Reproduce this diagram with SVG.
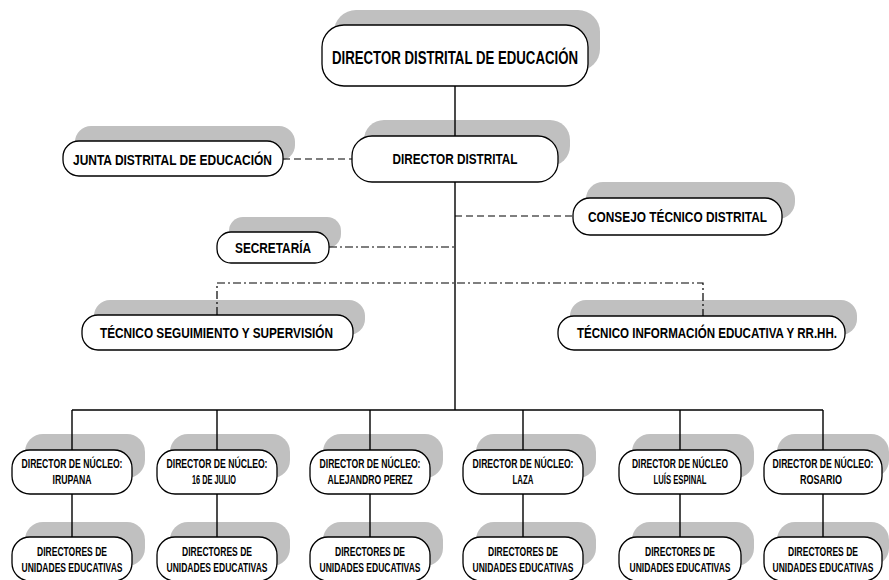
<svg xmlns="http://www.w3.org/2000/svg" width="889" height="580" viewBox="0 0 889 580">
<style>
.sh{fill:#c0c0c0;stroke:none}
.bx{fill:#fff;stroke:#000;stroke-width:1.3}
.t{font-family:"Liberation Sans Narrow","Liberation Sans",Arial,sans-serif;font-weight:bold;fill:#000;text-anchor:middle}
.n{font-size:13px}
.s{stroke:#000;stroke-width:1.4;fill:none}
.d{stroke:#000;stroke-width:1.2;fill:none;stroke-dasharray:7 4}
.dd{stroke:#000;stroke-width:1.2;fill:none;stroke-dasharray:8 3 2 3}
</style>
<rect width="889" height="580" fill="#fff"/>
<g id="n-top">
<rect class="sh" x="334" y="10" width="266" height="61" rx="22"/>
<rect class="bx" x="322" y="25" width="266" height="61" rx="22"/>
<text class="t" x="455" y="63.5" font-size="18.5" textLength="246" lengthAdjust="spacingAndGlyphs">DIRECTOR DISTRITAL  DE EDUCACIÓN</text>
</g>
<g id="n-junta">
<rect class="sh" x="75" y="126" width="220" height="35" rx="16"/>
<rect class="bx" x="63" y="141" width="220" height="35" rx="16"/>
<text class="t" x="172.5" y="165" font-size="14.5" textLength="199" lengthAdjust="spacingAndGlyphs">JUNTA DISTRITAL DE EDUCACIÓN</text>
</g>
<g id="n-dd">
<rect class="sh" x="364" y="120" width="206" height="46" rx="20"/>
<rect class="bx" x="352" y="136" width="206" height="46" rx="20"/>
<text class="t" x="455" y="164" font-size="15.5" textLength="125" lengthAdjust="spacingAndGlyphs">DIRECTOR DISTRITAL</text>
</g>
<g id="n-consejo">
<rect class="sh" x="586" y="182" width="209" height="37" rx="17"/>
<rect class="bx" x="573" y="198" width="209" height="37" rx="17"/>
<text class="t" x="677.5" y="222" font-size="15.5" textLength="179" lengthAdjust="spacingAndGlyphs">CONSEJO TÉCNICO DISTRITAL</text>
</g>
<g id="n-secretaria">
<rect class="sh" x="229" y="217" width="112" height="31" rx="14"/>
<rect class="bx" x="217" y="232" width="112" height="31" rx="14"/>
<text class="t" x="273" y="253" font-size="14.5" textLength="76" lengthAdjust="spacingAndGlyphs">SECRETARÍA</text>
</g>
<g id="n-seg">
<rect class="sh" x="94" y="300" width="271" height="35" rx="16"/>
<rect class="bx" x="82" y="315" width="271" height="35" rx="16"/>
<text class="t" x="216.5" y="337.5" font-size="15" textLength="233" lengthAdjust="spacingAndGlyphs">TÉCNICO SEGUIMIENTO Y SUPERVISIÓN</text>
</g>
<g id="n-inf">
<rect class="sh" x="570" y="300" width="287" height="35" rx="16"/>
<rect class="bx" x="558" y="316" width="287" height="34" rx="16"/>
<text class="t" x="707" y="337.5" font-size="15" textLength="260" lengthAdjust="spacingAndGlyphs">TÉCNICO INFORMACIÓN EDUCATIVA Y RR.HH.</text>
</g>
<g id="n-nuc1">
<rect class="sh" x="25" y="434" width="120" height="44" rx="18"/>
<rect class="bx" x="12" y="450" width="120" height="44" rx="18"/>
<text class="t n" x="72" y="468" textLength="101" lengthAdjust="spacingAndGlyphs">DIRECTOR DE NÚCLEO:</text>
<text class="t n" x="72" y="484" textLength="39" lengthAdjust="spacingAndGlyphs">IRUPANA</text>
</g>
<g id="n-nuc2">
<rect class="sh" x="170" y="434" width="120" height="44" rx="18"/>
<rect class="bx" x="157" y="450" width="120" height="44" rx="18"/>
<text class="t n" x="217" y="468" textLength="101" lengthAdjust="spacingAndGlyphs">DIRECTOR DE NÚCLEO:</text>
<text class="t n" x="214" y="484" textLength="44" lengthAdjust="spacingAndGlyphs">16 DE JULIO</text>
</g>
<g id="n-nuc3">
<rect class="sh" x="323" y="434" width="120" height="44" rx="18"/>
<rect class="bx" x="310" y="450" width="120" height="44" rx="18"/>
<text class="t n" x="370" y="468" textLength="101" lengthAdjust="spacingAndGlyphs">DIRECTOR DE NÚCLEO:</text>
<text class="t n" x="370" y="484" textLength="85" lengthAdjust="spacingAndGlyphs">ALEJANDRO PEREZ</text>
</g>
<g id="n-nuc4">
<rect class="sh" x="476" y="434" width="120" height="44" rx="18"/>
<rect class="bx" x="463" y="450" width="120" height="44" rx="18"/>
<text class="t n" x="523" y="468" textLength="101" lengthAdjust="spacingAndGlyphs">DIRECTOR DE NÚCLEO:</text>
<text class="t n" x="523" y="484" textLength="21" lengthAdjust="spacingAndGlyphs">LAZA</text>
</g>
<g id="n-nuc5">
<rect class="sh" x="632" y="434" width="122" height="44" rx="18"/>
<rect class="bx" x="619" y="450" width="122" height="44" rx="18"/>
<text class="t n" x="680" y="468" textLength="96" lengthAdjust="spacingAndGlyphs">DIRECTOR DE NÚCLEO</text>
<text class="t n" x="680" y="484" textLength="53" lengthAdjust="spacingAndGlyphs">LUÍS ESPINAL</text>
</g>
<g id="n-nuc6">
<rect class="sh" x="777" y="434" width="112" height="44" rx="18"/>
<rect class="bx" x="764" y="450" width="118" height="44" rx="18"/>
<text class="t n" x="823" y="468" textLength="101" lengthAdjust="spacingAndGlyphs">DIRECTOR DE NÚCLEO:</text>
<text class="t n" x="821" y="484" textLength="42" lengthAdjust="spacingAndGlyphs">ROSARIO</text>
</g>
<g id="n-ue1">
<rect class="sh" x="25" y="522" width="120" height="44" rx="18"/>
<rect class="bx" x="12" y="537" width="120" height="44" rx="18"/>
<text class="t n" x="72" y="556" textLength="70" lengthAdjust="spacingAndGlyphs">DIRECTORES DE</text>
<text class="t n" x="72" y="572" textLength="101" lengthAdjust="spacingAndGlyphs">UNIDADES EDUCATIVAS</text>
</g>
<g id="n-ue2">
<rect class="sh" x="170" y="522" width="120" height="44" rx="18"/>
<rect class="bx" x="157" y="537" width="120" height="44" rx="18"/>
<text class="t n" x="217" y="556" textLength="70" lengthAdjust="spacingAndGlyphs">DIRECTORES DE</text>
<text class="t n" x="217" y="572" textLength="101" lengthAdjust="spacingAndGlyphs">UNIDADES EDUCATIVAS</text>
</g>
<g id="n-ue3">
<rect class="sh" x="323" y="522" width="120" height="44" rx="18"/>
<rect class="bx" x="310" y="537" width="120" height="44" rx="18"/>
<text class="t n" x="370" y="556" textLength="70" lengthAdjust="spacingAndGlyphs">DIRECTORES DE</text>
<text class="t n" x="370" y="572" textLength="101" lengthAdjust="spacingAndGlyphs">UNIDADES EDUCATIVAS</text>
</g>
<g id="n-ue4">
<rect class="sh" x="476" y="522" width="120" height="44" rx="18"/>
<rect class="bx" x="463" y="537" width="120" height="44" rx="18"/>
<text class="t n" x="523" y="556" textLength="70" lengthAdjust="spacingAndGlyphs">DIRECTORES DE</text>
<text class="t n" x="523" y="572" textLength="101" lengthAdjust="spacingAndGlyphs">UNIDADES EDUCATIVAS</text>
</g>
<g id="n-ue5">
<rect class="sh" x="632" y="522" width="122" height="44" rx="18"/>
<rect class="bx" x="619" y="537" width="122" height="44" rx="18"/>
<text class="t n" x="680" y="556" textLength="70" lengthAdjust="spacingAndGlyphs">DIRECTORES DE</text>
<text class="t n" x="680" y="572" textLength="101" lengthAdjust="spacingAndGlyphs">UNIDADES EDUCATIVAS</text>
</g>
<g id="n-ue6">
<rect class="sh" x="777" y="522" width="112" height="44" rx="18"/>
<rect class="bx" x="764" y="537" width="118" height="44" rx="18"/>
<text class="t n" x="823" y="556" textLength="70" lengthAdjust="spacingAndGlyphs">DIRECTORES DE</text>
<text class="t n" x="823" y="572" textLength="101" lengthAdjust="spacingAndGlyphs">UNIDADES EDUCATIVAS</text>
</g>
<g id="connectors">
<path class="s" d="M455 86V136M455 182V410M72 410H823M72 410V450M217 410V450M370 410V450M523 410V450M680 410V450M823 410V450M72 494V537M217 494V537M370 494V537M523 494V537M680 494V537M823 494V537"/>
<path class="d" d="M283 159H352M455 216H573"/>
<path class="dd" d="M329 247H455M217 315V283H703V316"/>
</g>
</svg>
